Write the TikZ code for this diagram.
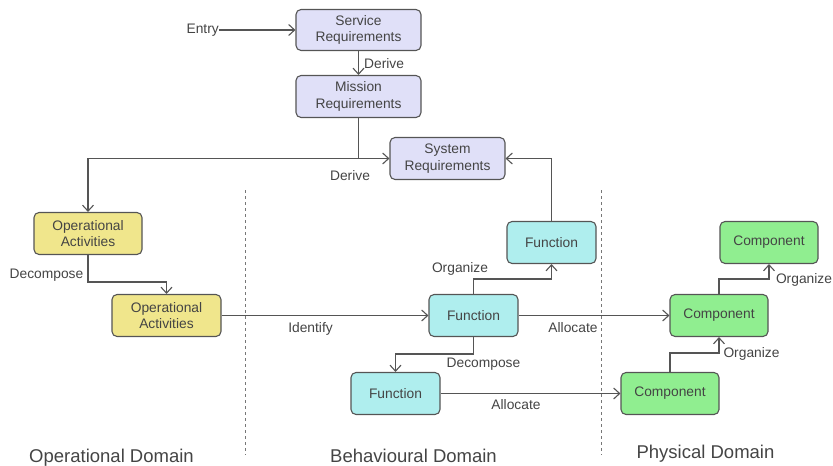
\documentclass[tikz,border=0pt]{standalone}
\usepackage{fontspec}
\setmainfont{Liberation Sans}
\usetikzlibrary{arrows.meta}
\definecolor{reqfill}{HTML}{E0E0F8}
\definecolor{opfill}{HTML}{F0E68C}
\definecolor{fnfill}{HTML}{AFEEEE}
\definecolor{cpfill}{HTML}{90EE90}
\definecolor{edge}{HTML}{555555}
\definecolor{txt}{HTML}{444444}
\tikzset{
  box/.style={draw=edge, line width=1.1pt, rounded corners=5pt, align=center, inner sep=0pt, text=txt, font=\fontsize{13.8}{16.5}\selectfont},
  req/.style={box, fill=reqfill},
  op/.style={box, fill=opfill},
  fn/.style={box, fill=fnfill},
  cp/.style={box, fill=cpfill},
  conn/.style={draw=edge, line width=1.1pt, -{Straight Barb[length=6pt,width=11pt,line width=1.1pt]}},
  lbl/.style={text=txt, font=\fontsize{13.8}{16.5}\selectfont, inner sep=0pt},
  dom/.style={text=txt, font=\fontsize{18.5}{21}\selectfont, inner sep=0pt},
  divider/.style={draw=edge!80, line width=0.8pt, dash pattern=on 3pt off 3pt}
}
\begin{document}
\begin{tikzpicture}[x=1pt,y=-1pt]
\useasboundingbox (0,0) rectangle (833,466);
% nodes
\node[req, minimum width=125pt, minimum height=41pt] (sr) at (358.5,30) {Service\\Requirements};
\node[req, minimum width=125pt, minimum height=42pt] (mr) at (358.5,96.5) {Mission\\Requirements};
\node[req, minimum width=115pt, minimum height=42pt] (sys) at (447.5,158.5) {System\\Requirements};
\node[op, minimum width=108pt, minimum height=42pt] (oa1) at (88,233.5) {Operational\\Activities};
\node[op, minimum width=109pt, minimum height=42pt] (oa2) at (166.5,315.5) {Operational\\Activities};
\node[fn, minimum width=89pt, minimum height=42pt] (f1) at (551.5,242.5) {Function};
\node[fn, minimum width=89pt, minimum height=42pt] (f2) at (473.5,315.5) {Function};
\node[fn, minimum width=89pt, minimum height=42pt] (f3) at (395.5,393.5) {Function};
\node[cp, minimum width=98pt, minimum height=42pt] (c1) at (769,242.5) {Component};
\node[cp, minimum width=98pt, minimum height=42pt] (c2) at (719,315.5) {Component};
\node[cp, minimum width=98pt, minimum height=42pt] (c3) at (670,393.5) {Component};
\node[lbl, anchor=east] (entry) at (219,30) {Entry};
% dividers
\coordinate (d1t) at (245,190); \coordinate (d1b) at (245,455);
\coordinate (d2t) at (601,190); \coordinate (d2b) at (601,455);
\draw[divider] (d1t) -- (d1b);
\draw[divider] (d2t) -- (d2b);
% connectors
\draw[conn] (entry.east) -- (sr.west);
\draw[conn] (sr.south) -- (mr.north);
\node[lbl, anchor=west] at (364,63.5) {Derive};
\coordinate (j1) at (358.5,158.5);
\draw[conn] (mr.south) -- (j1) -- (sys.west);
\draw[conn] (mr.south) -- (j1) -| (oa1.north);
\node[lbl] at (350,176) {Derive};
\draw[conn] (f1.north) |- (sys.east);
\draw[conn] (oa1.south) -- (88,282) -| (oa2.north);
\node[lbl] at (46.5,275) {Decompose};
\draw[conn] (oa2.east) -- (f2.west);
\node[lbl] at (310.5,329) {Identify};
\draw[conn] (f2.north) -- (473.5,279) -| (f1.south);
\node[lbl] at (460,269) {Organize};
\draw[conn] (f2.east) -- (c2.west);
\node[lbl] at (573,328) {Allocate};
\draw[conn] (f2.south) -- (473.5,354) -| (f3.north);
\node[lbl] at (483.5,364) {Decompose};
\draw[conn] (f3.east) -- (c3.west);
\node[lbl] at (516,405) {Allocate};
\draw[conn] (c3.north) -- (670,353) -| (c2.south);
\node[lbl] at (751.5,354) {Organize};
\draw[conn] (c2.north) -- (719,279) -| (c1.south);
\node[lbl] at (804,280) {Organize};
% domain labels
\node[dom] at (111.5,457.5) {Operational Domain};
\node[dom] at (413.5,456) {Behavioural Domain};
\node[dom] at (705.5,454) {Physical Domain};
\end{tikzpicture}
\end{document}
